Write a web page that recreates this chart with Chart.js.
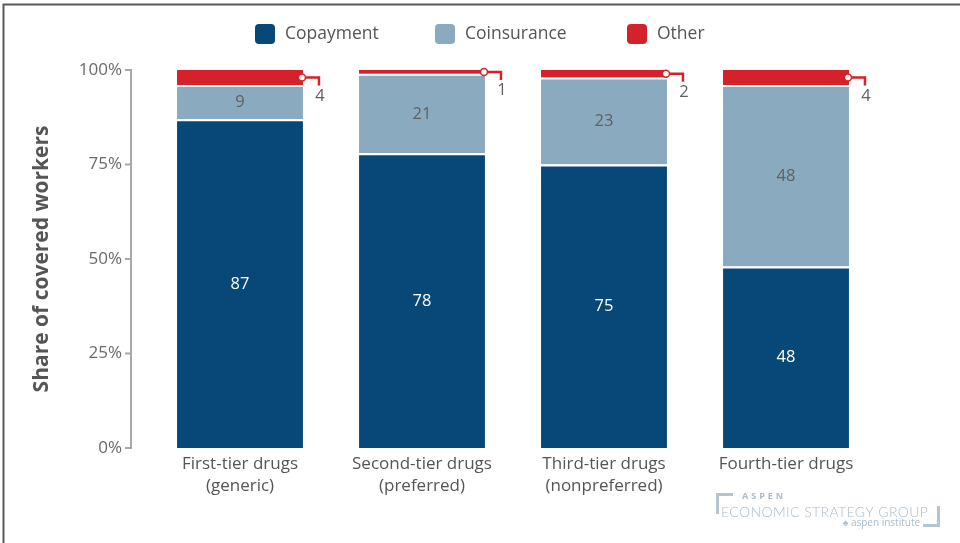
<!DOCTYPE html>
<html>
<head>
<meta charset="utf-8">
<script src="https://cdn.jsdelivr.net/npm/chart.js@4"></script>
<style>
  html, body { margin: 0; padding: 0; background: #fff; overflow: hidden; }
  canvas { display: block; }
</style>
</head>
<body>
<canvas id="myChart" width="960" height="543"></canvas>
<script>
// data
var categories = [["First-tier drugs", "(generic)"], ["Second-tier drugs", "(preferred)"], ["Third-tier drugs", "(nonpreferred)"], ["Fourth-tier drugs"]];
var copayment = [87, 78, 75, 48];
var coinsurance = [9, 21, 23, 48];
var other = [4, 1, 2, 4];
var yTicks = [0, 25, 50, 75, 100];

var FONT = "'Open Sans', Lato, sans-serif";
var BLUE = "#074878", LIGHT = "#8aaac0", RED = "#d52129";

// frame, legend, axis line, value labels, callouts, logo
var decorations = {
    id: 'decorations',
    beforeDraw: function (chart) {
        var c = chart.ctx;
        c.save();
        c.strokeStyle = "#5a5a5a";
        c.lineWidth = 2;
        c.beginPath();
        c.moveTo(3.5, 543); c.lineTo(3.5, 4.5); c.lineTo(960, 4.5);
        c.stroke();
        c.restore();
    },
    afterDatasetsDraw: function (chart) {
        var c = chart.ctx;
        var y = chart.scales.y;
        c.save();
        // y axis line drawn left of the plot area
        c.strokeStyle = "#a7a9ac";
        c.lineWidth = 2;
        c.beginPath();
        c.moveTo(131, y.getPixelForValue(100) - 1);
        c.lineTo(131, y.getPixelForValue(0) + 1);
        c.stroke();
        yTicks.forEach(function (t) {
            var py = y.getPixelForValue(t);
            c.beginPath(); c.moveTo(125, py); c.lineTo(131, py); c.stroke();
        });

        // values inside segments
        c.font = "16.5px " + FONT;
        c.textAlign = "center";
        c.textBaseline = "middle";
        [0, 1].forEach(function (di) {
            var meta = chart.getDatasetMeta(di);
            var vals = chart.data.datasets[di].data;
            meta.data.forEach(function (bar, i) {
                c.fillStyle = di === 0 ? "#ffffff" : "#606060";
                c.fillText(vals[i], bar.x, (bar.y + bar.base) / 2 + 0.5);
            });
        });

        // callouts for the "Other" segment
        var om = chart.getDatasetMeta(2);
        var ov = chart.data.datasets[2].data;
        om.data.forEach(function (bar, i) {
            var right = bar.x + bar.width / 2;
            var my = (bar.y + bar.base) / 2;
            c.strokeStyle = RED;
            c.lineWidth = 2.5;
            c.beginPath();
            c.moveTo(right - 1, my);
            c.lineTo(right + 16, my);
            c.lineTo(right + 16, my + 8);
            c.stroke();
            c.beginPath();
            c.arc(right - 1, my, 3.5, 0, Math.PI * 2);
            c.fillStyle = "#fff";
            c.fill();
            c.lineWidth = 1.5;
            c.stroke();
            c.fillStyle = "#606060";
            c.font = "16.5px " + FONT;
            c.fillText(ov[i], right + 17, my + 18.5);
        });

        // legend
        var lx = [255, 435, 627];
        chart.data.datasets.forEach(function (ds, i) {
            c.fillStyle = ds.backgroundColor;
            c.beginPath();
            c.roundRect(lx[i], 24, 20, 20, 4);
            c.fill();
            c.fillStyle = "#555";
            c.font = "17.5px " + FONT;
            c.textAlign = "left";
            c.fillText(ds.label, lx[i] + 30, 34);
        });

        // logo
        c.strokeStyle = "#b4c5d2";
        c.lineWidth = 3;
        c.beginPath();
        c.moveTo(733, 494.5); c.lineTo(717.5, 494.5); c.lineTo(717.5, 514);
        c.stroke();
        c.beginPath();
        c.moveTo(938.5, 506); c.lineTo(938.5, 525.5); c.lineTo(923, 525.5);
        c.stroke();
        c.fillStyle = "#a9bccb";
        c.textAlign = "left";
        c.font = "bold 9px " + FONT;
        c.letterSpacing = "3px";
        c.fillText("ASPEN", 742, 496);
        c.letterSpacing = "0px";
        c.font = "300 14px Lato, sans-serif";
        c.letterSpacing = "0.4px";
        c.fillText("ECONOMIC STRATEGY GROUP", 721, 512);
        c.letterSpacing = "0px";
        c.font = "10px " + FONT;
        c.fillText("\u2660 aspen institute", 843, 523);
        c.restore();
    }
};

var ctx = document.getElementById('myChart').getContext('2d');
var myChart = new Chart(ctx, {
    type: 'bar',
    data: {
        labels: categories,
        datasets: [
            { label: "Copayment", data: copayment, backgroundColor: BLUE, borderColor: "#fff",
              borderWidth: { top: 2, left: 0, right: 0, bottom: 0 } },
            { label: "Coinsurance", data: coinsurance, backgroundColor: LIGHT, borderColor: "#fff",
              borderWidth: { top: 2, left: 0, right: 0, bottom: 0 } },
            { label: "Other", data: other, backgroundColor: RED, borderWidth: 0 }
        ]
    },
    options: {
        responsive: false,
        animation: false,
        devicePixelRatio: 1,
        categoryPercentage: 1,
        barPercentage: 0.692,
        layout: { padding: { top: 70, left: 0, right: 83, bottom: 0 } },
        plugins: { legend: { display: false }, tooltip: { enabled: false } },
        scales: {
            x: {
                stacked: true,
                grid: { display: false, drawTicks: false },
                border: { display: false },
                ticks: { color: "#555", padding: 5, font: { family: FONT, size: 17, lineHeight: 1.3 }, maxRotation: 0 },
                afterFit: function (s) { s.height = 95; }
            },
            y: {
                stacked: true,
                min: 0, max: 100,
                grid: { display: false, drawTicks: false },
                border: { display: false },
                ticks: { stepSize: 25, color: "#6a6a6a", padding: 27, font: { family: FONT, size: 17 },
                         callback: function (v) { return v + "%"; } },
                title: { display: true, text: "Share of covered workers", color: "#555",
                         font: { family: FONT, size: 21, weight: "bold" }, padding: { top: 29 } },
                afterFit: function (s) { s.width = 149; }
            }
        }
    },
    plugins: [decorations]
});
</script>
</body>
</html>
